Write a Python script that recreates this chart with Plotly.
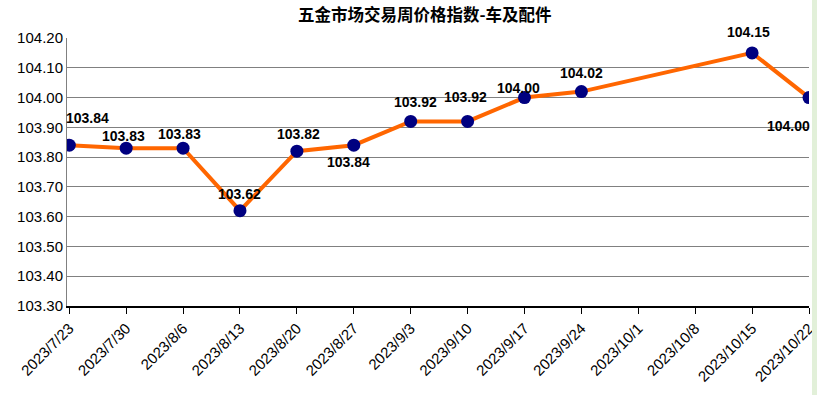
import plotly.graph_objects as go

dates = ["2023/7/23", "2023/7/30", "2023/8/6", "2023/8/13", "2023/8/20", "2023/8/27",
         "2023/9/3", "2023/9/10", "2023/9/17", "2023/9/24", "2023/10/1", "2023/10/8",
         "2023/10/15", "2023/10/22"]
values = [103.84, 103.83, 103.83, 103.62, 103.82, 103.84,
          103.92, 103.92, 104.00, 104.02, None, None,
          104.15, 104.00]
y_ticks = [103.30, 103.40, 103.50, 103.60, 103.70, 103.80, 103.90, 104.00, 104.10, 104.20]
title_text = "五金市场交易周价格指数-车及配件"

# label offsets (pixels) for each data label
label_dx = [18, -3, -4, 0, 2, -5, 5, -2, -6, 0, 0, 0, -4, -21]
label_dy = [27, 12, 14, 17, 17, -17, 19, 24, 10, 19, 0, 0, 21, -28]

W, H = 817, 395
L, R, T, B = 67, 8, 38, 89
pw, ph = W - L - R, H - T - B

fig = go.Figure()
fig.add_trace(go.Scatter(
    x=dates, y=values, mode="lines+markers", connectgaps=True,
    line=dict(color="#FF6600", width=4),
    marker=dict(color="#000080", size=13),
    hoverinfo="x+y", showlegend=False,
))

for i, (d, v) in enumerate(zip(dates, values)):
    if v is None:
        continue
    fig.add_annotation(
        x=d, y=v, text=f"<b>{v:.2f}</b>", showarrow=False,
        xshift=label_dx[i], yshift=label_dy[i],
        font=dict(family="Liberation Sans, Arial, sans-serif", size=14, color="black"),
        xanchor="center", yanchor="middle",
    )

fig.add_annotation(
    text="<b>" + title_text + "</b>", showarrow=False,
    xref="paper", yref="paper", x=(425 - L) / pw, y=1 + (T - 14) / ph,
    xanchor="center", yanchor="middle",
    font=dict(family="Noto Sans CJK SC, sans-serif", size=16.5, color="black"),
)

fig.update_layout(
    width=W, height=H,
    margin=dict(l=L, r=R, t=T, b=B),
    paper_bgcolor="white", plot_bgcolor="white",
    font=dict(family="Liberation Sans, Arial, sans-serif", color="black"),
)

fig.update_xaxes(
    type="category", categoryorder="array", categoryarray=dates,
    range=[-0.04, 13.0],
    tickangle=-45, tickfont=dict(size=15, color="black"),
    showline=True, linecolor="black", linewidth=1.5,
    ticks="outside", ticklen=6, tickcolor="black",
    showgrid=False, zeroline=False, automargin=False,
)
fig.update_yaxes(
    range=[103.30, 104.20], tickvals=y_ticks,
    ticktext=[f"{t:.2f}" for t in y_ticks],
    tickfont=dict(size=15, color="black"),
    showline=True, linecolor="#808080", linewidth=1,
    showgrid=True, gridcolor="#808080", gridwidth=1,
    ticks="", zeroline=False, automargin=False,
)

# light green strip at right edge (spreadsheet background)
fig.add_shape(type="rect", xref="paper", yref="paper",
              x0=(812 - L) / pw, x1=(820 - L) / pw, y0=-0.5, y1=1.5,
              fillcolor="#E2F0D9", line=dict(width=0), layer="above")

fig.write_html("out.html", config={"displayModeBar": False},
               post_script="document.body.style.margin='0';document.body.style.padding='0';")
